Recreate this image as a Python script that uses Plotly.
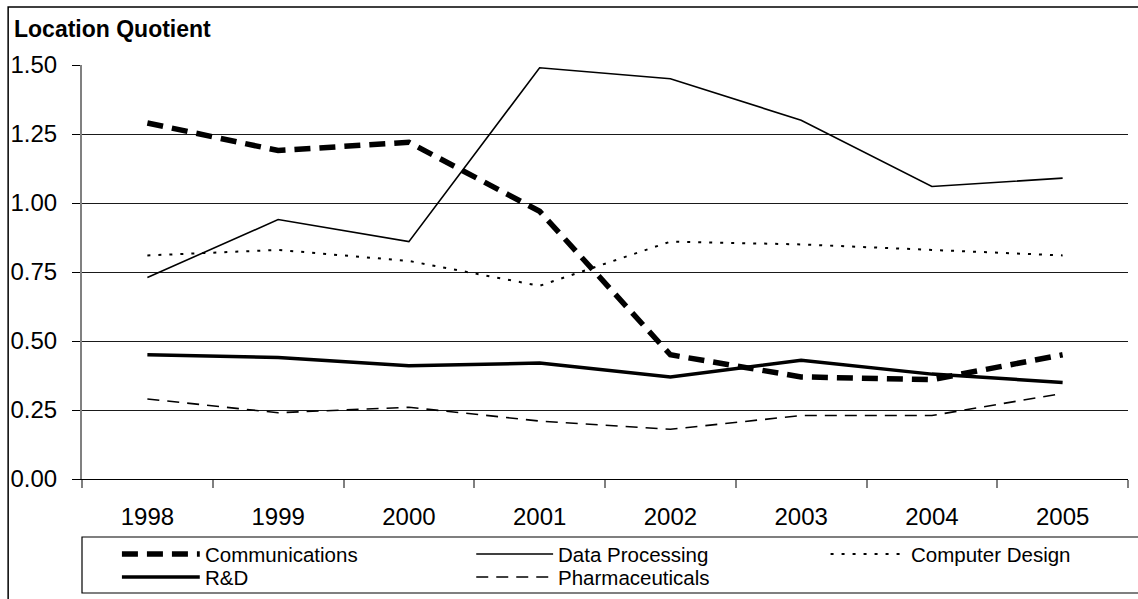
import plotly.graph_objects as go

years = ["1998", "1999", "2000", "2001", "2002", "2003", "2004", "2005"]
communications = [1.29, 1.19, 1.22, 0.97, 0.45, 0.37, 0.36, 0.45]
data_processing = [0.73, 0.94, 0.86, 1.49, 1.45, 1.30, 1.06, 1.09]
computer_design = [0.81, 0.83, 0.79, 0.70, 0.86, 0.85, 0.83, 0.81]
r_and_d = [0.45, 0.44, 0.41, 0.42, 0.37, 0.43, 0.38, 0.35]
pharmaceuticals = [0.29, 0.24, 0.26, 0.21, 0.18, 0.23, 0.23, 0.31]
y_ticks = [0.0, 0.25, 0.5, 0.75, 1.0, 1.25, 1.5]
y_tick_labels = ["0.00", "0.25", "0.50", "0.75", "1.00", "1.25", "1.50"]

W, H = 1138, 599
ML, MR, MT, MB = 80, 10, 65, 120
PW, PH = W - ML - MR, H - MT - MB
FONT = "Liberation Sans, Arial, sans-serif"


def px(x):
    return (x - ML) / PW


def py(y):
    return (H - MB - y) / PH


series = [
    ("Communications", communications, dict(color="black", width=5.5, dash="16px,9px")),
    ("Data Processing", data_processing, dict(color="black", width=1.6)),
    ("Computer Design", computer_design, dict(color="black", width=2, dash="3px,8px")),
    ("R&D", r_and_d, dict(color="black", width=3.5)),
    ("Pharmaceuticals", pharmaceuticals, dict(color="black", width=1.6, dash="12px,8px")),
]

fig = go.Figure()
# draw thin lines first so the heavy series sit on top
for name, vals, line in [series[4], series[2], series[1], series[3], series[0]]:
    fig.add_trace(go.Scatter(x=years, y=vals, mode="lines", name=name,
                             line=line, showlegend=False))

shapes = []
annotations = []

# outer chart frame
shapes.append(dict(type="rect", xref="paper", yref="paper",
                   x0=px(6), x1=px(W + 20), y0=py(H + 20), y1=py(7),
                   line=dict(color="black", width=1.5), fillcolor="rgba(0,0,0,0)"))

# legend box
shapes.append(dict(type="rect", xref="paper", yref="paper",
                   x0=px(80), x1=px(W + 20), y0=py(593), y1=py(537),
                   line=dict(color="black", width=1.2), fillcolor="white"))

legend_layout = [
    (series[0], 120, 198, 554),
    (series[1], 475, 552, 554),
    (series[2], 830, 906, 554),
    (series[3], 120, 198, 577),
    (series[4], 475, 552, 577),
]
for (name, _, line), x0, x1, yy in legend_layout:
    shapes.append(dict(type="line", xref="paper", yref="paper",
                       x0=px(x0), x1=px(x1), y0=py(yy), y1=py(yy), line=line))
    annotations.append(dict(text=name, xref="paper", yref="paper",
                            x=px(x1 + 3), y=py(yy), xanchor="left", yanchor="middle",
                            showarrow=False,
                            font=dict(family=FONT, size=20.5, color="black")))

annotations.append(dict(text="<b>Location Quotient</b>", xref="paper", yref="paper",
                        x=px(10), y=py(29), xanchor="left", yanchor="middle",
                        showarrow=False, font=dict(family=FONT, size=23, color="black")))

fig.update_layout(
    width=W, height=H,
    margin=dict(l=ML, r=MR, t=MT, b=MB),
    paper_bgcolor="white", plot_bgcolor="white",
    font=dict(family=FONT, size=24, color="black"),
    shapes=shapes, annotations=annotations,
    xaxis=dict(type="category", categoryorder="array", categoryarray=years,
               range=[-0.5, 7.5], showgrid=False, tickson="boundaries",
               ticks="outside", ticklen=8, tickcolor="#808080", tickwidth=1.5,
               showline=True, linecolor="black", linewidth=1.2,
               ticklabelstandoff=16, tickfont=dict(size=24)),
    yaxis=dict(range=[0, 1.5], tickvals=y_ticks, ticktext=y_tick_labels,
               showgrid=True, gridcolor="#1a1a1a", gridwidth=1,
               zeroline=False, ticks="outside", ticklen=8, tickcolor="black",
               showline=True, linecolor="#808080", linewidth=2,
               ticklabelstandoff=10, tickfont=dict(size=24)),
)

fig.write_html("out.html")
